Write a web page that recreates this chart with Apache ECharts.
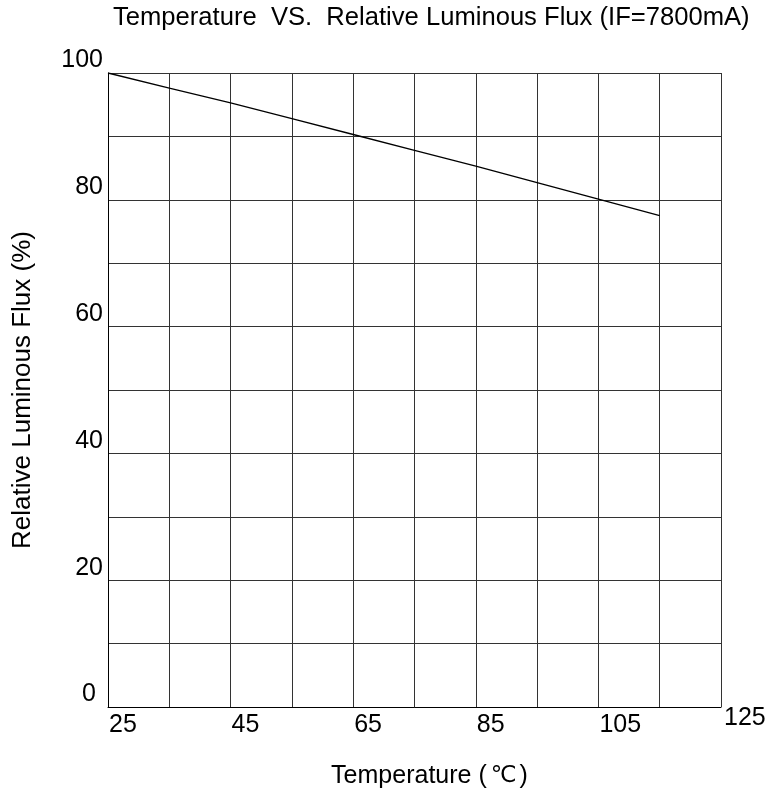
<!DOCTYPE html>
<html>
<head>
<meta charset="utf-8">
<script src="https://cdn.jsdelivr.net/npm/echarts@6/dist/echarts.min.js"></script>
<style>html,body{margin:0;padding:0;background:#fff}#c{width:767px;height:795px}</style>
</head>
<body>
<div id="c"></div>
<script>
const temperatures = [25, 35, 45, 55, 65, 75, 85, 95, 105, 115];
const relativeFlux = [100, 97.6, 95.3, 92.8, 90.3, 87.8, 85.3, 82.7, 80.1, 77.5];
const xTickLabels = [25, 45, 65, 85, 105, 125];
const yTickLabels = [0, 20, 40, 60, 80, 100];
const titleText = 'Temperature  VS.  Relative Luminous Flux (IF=7800mA)';
const xNameMain = 'Temperature (';
const xNameUnit = '\u2103';
const xNameEnd = ')';
const yName = 'Relative Luminous Flux (%)';

const FONT = '"Liberation Sans", Arial, sans-serif';
const chart = echarts.init(document.getElementById('c'), null, {renderer: 'canvas'});
chart.setOption({
  backgroundColor: '#fff',
  animation: false,
  title: {
    text: titleText,
    left: 113, top: 5, padding: 0,
    textStyle: {fontFamily: FONT, fontSize: 25.6, fontWeight: 'normal', color: '#000'}
  },
  grid: {left: 108, right: 46, top: 73, bottom: 88, containLabel: false, outerBoundsMode: 'none'},
  xAxis: {
    type: 'value', min: 25, max: 125, interval: 10,
    name: '{t|' + xNameMain + '}{u|' + xNameUnit + '}{t|' + xNameEnd + '}',
    nameLocation: 'middle', nameGap: 57,
    nameTextStyle: {
      fontFamily: FONT, fontSize: 25, color: '#000', padding: [0, 0, 0, 30],
      rich: {
        t: {fontFamily: FONT, fontSize: 25, color: '#000'},
        u: {fontFamily: '"DejaVu Sans", sans-serif', fontSize: 23, color: '#000', padding: [0, 3, 0, 4]}
      }
    },
    axisLine: {show: true, lineStyle: {color: '#000', width: 1}},
    axisTick: {show: false},
    splitLine: {show: true, lineStyle: {color: '#333', width: 1}},
    axisLabel: {
      fontFamily: FONT, fontSize: 25, color: '#000', align: 'left', verticalAlign: 'top', margin: -1,
      formatter: v => xTickLabels.includes(v) ? (v === 125 ? '{e|' + v + '}' : '{n|' + v + '}') : '',
      rich: {
        n: {fontFamily: FONT, fontSize: 25, color: '#000', padding: [7, 0, 0, 1]},
        e: {fontFamily: FONT, fontSize: 25, color: '#000', padding: [0, 0, 0, 3]}
      }
    }
  },
  yAxis: {
    type: 'value', min: 0, max: 100, interval: 10,
    name: yName, nameLocation: 'middle', nameGap: 72, nameRotate: 90,
    nameTextStyle: {fontFamily: FONT, fontSize: 26, color: '#000', padding: [0, 0, 0, 0]},
    axisLine: {show: true, lineStyle: {color: '#000', width: 1}},
    axisTick: {show: false},
    splitLine: {show: true, lineStyle: {color: '#333', width: 1}},
    axisLabel: {
      fontFamily: FONT, fontSize: 25, color: '#000', margin: 5, verticalAlign: 'bottom',
      formatter: v => yTickLabels.includes(v) ? (v === 0 ? '{z|0}' : String(v)) : '',
      rich: {z: {fontFamily: FONT, fontSize: 25, color: '#000', padding: [0, 7, 0, 0]}}
    }
  },
  series: [{
    type: 'line',
    data: temperatures.map((t, i) => [t, relativeFlux[i]]),
    showSymbol: false,
    lineStyle: {color: '#000', width: 1.3},
    silent: true
  }]
});
</script>
</body>
</html>
